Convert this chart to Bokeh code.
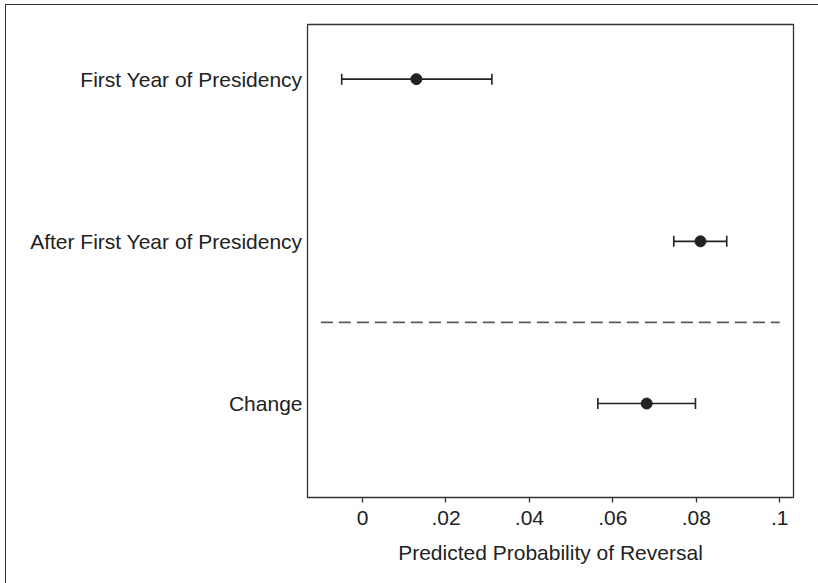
from bokeh.plotting import figure
from bokeh.models import FixedTicker, Whisker, ColumnDataSource, TeeHead
from bokeh.embed import file_html
from bokeh.resources import INLINE

categories = ["First Year of Presidency", "After First Year of Presidency", "Change"]
positions = [3, 2, 1]
estimates = [0.0129, 0.0810, 0.0681]
lower = [-0.0050, 0.0746, 0.0564]
upper = [0.0310, 0.0873, 0.0798]
x_ticks = [0, 0.02, 0.04, 0.06, 0.08, 0.1]
x_tick_labels = ["0", ".02", ".04", ".06", ".08", ".1"]
separator_y = 1.5
separator_x = [-0.01, 0.1]
x_label = "Predicted Probability of Reversal"

FONT = "Liberation Sans"
FS = "21px"
INK = "#222222"

src = ColumnDataSource(dict(y=positions, x=estimates, lo=lower, hi=upper))

p = figure(width=818, height=583, output_backend="svg", toolbar_location=None,
           x_range=(-0.0132, 0.1033), y_range=(0.4205, 3.337),
           min_border_left=307, min_border_right=25, min_border_top=24, min_border_bottom=86)
p.styles = {"box-shadow": "inset 5px 4px 0 0 #ffffff, inset 6px 5px 0 0 #333333"}
p.border_fill_color = None
p.background_fill_color = "white"
p.outline_line_color = "#333333"
p.outline_line_width = 1.3
p.grid.visible = False

p.segment(x0=[separator_x[0]], x1=[separator_x[1]], y0=[separator_y], y1=[separator_y],
          line_color="#5a5a5a", line_width=1.8, line_dash="12 6")

w = Whisker(source=src, base="y", lower="lo", upper="hi", dimension="width",
            line_color=INK, line_width=1.6,
            lower_head=TeeHead(size=11, line_color=INK, line_width=1.6),
            upper_head=TeeHead(size=11, line_color=INK, line_width=1.6))
p.add_layout(w)
p.scatter("x", "y", source=src, size=11, color=INK)

xa = p.xaxis[0]
xa.ticker = FixedTicker(ticks=x_ticks, minor_ticks=[])
xa.major_label_overrides = {t: l for t, l in zip(x_ticks, x_tick_labels)}
xa.axis_line_color = None
xa.major_tick_line_color = "#333333"
xa.major_tick_line_width = 1.3
xa.major_tick_in = 0
xa.major_tick_out = 5
xa.minor_tick_line_color = None
xa.major_label_text_font = FONT
xa.major_label_text_font_size = FS
xa.major_label_text_color = INK
xa.major_label_standoff = 8
xa.axis_label = x_label
xa.axis_label_text_font = FONT
xa.axis_label_text_font_size = FS
xa.axis_label_text_font_style = "normal"
xa.axis_label_text_color = INK
xa.axis_label_standoff = 13

ya = p.yaxis[0]
ya.ticker = FixedTicker(ticks=positions, minor_ticks=[])
ya.major_label_overrides = {pos: c for pos, c in zip(positions, categories)}
ya.axis_line_color = None
ya.major_tick_line_color = None
ya.major_tick_in = 0
ya.major_tick_out = 0
ya.minor_tick_line_color = None
ya.major_label_text_font = FONT
ya.major_label_text_font_size = FS
ya.major_label_text_color = INK
ya.major_label_standoff = 5

open("out.html", "w").write(file_html(p, INLINE))
